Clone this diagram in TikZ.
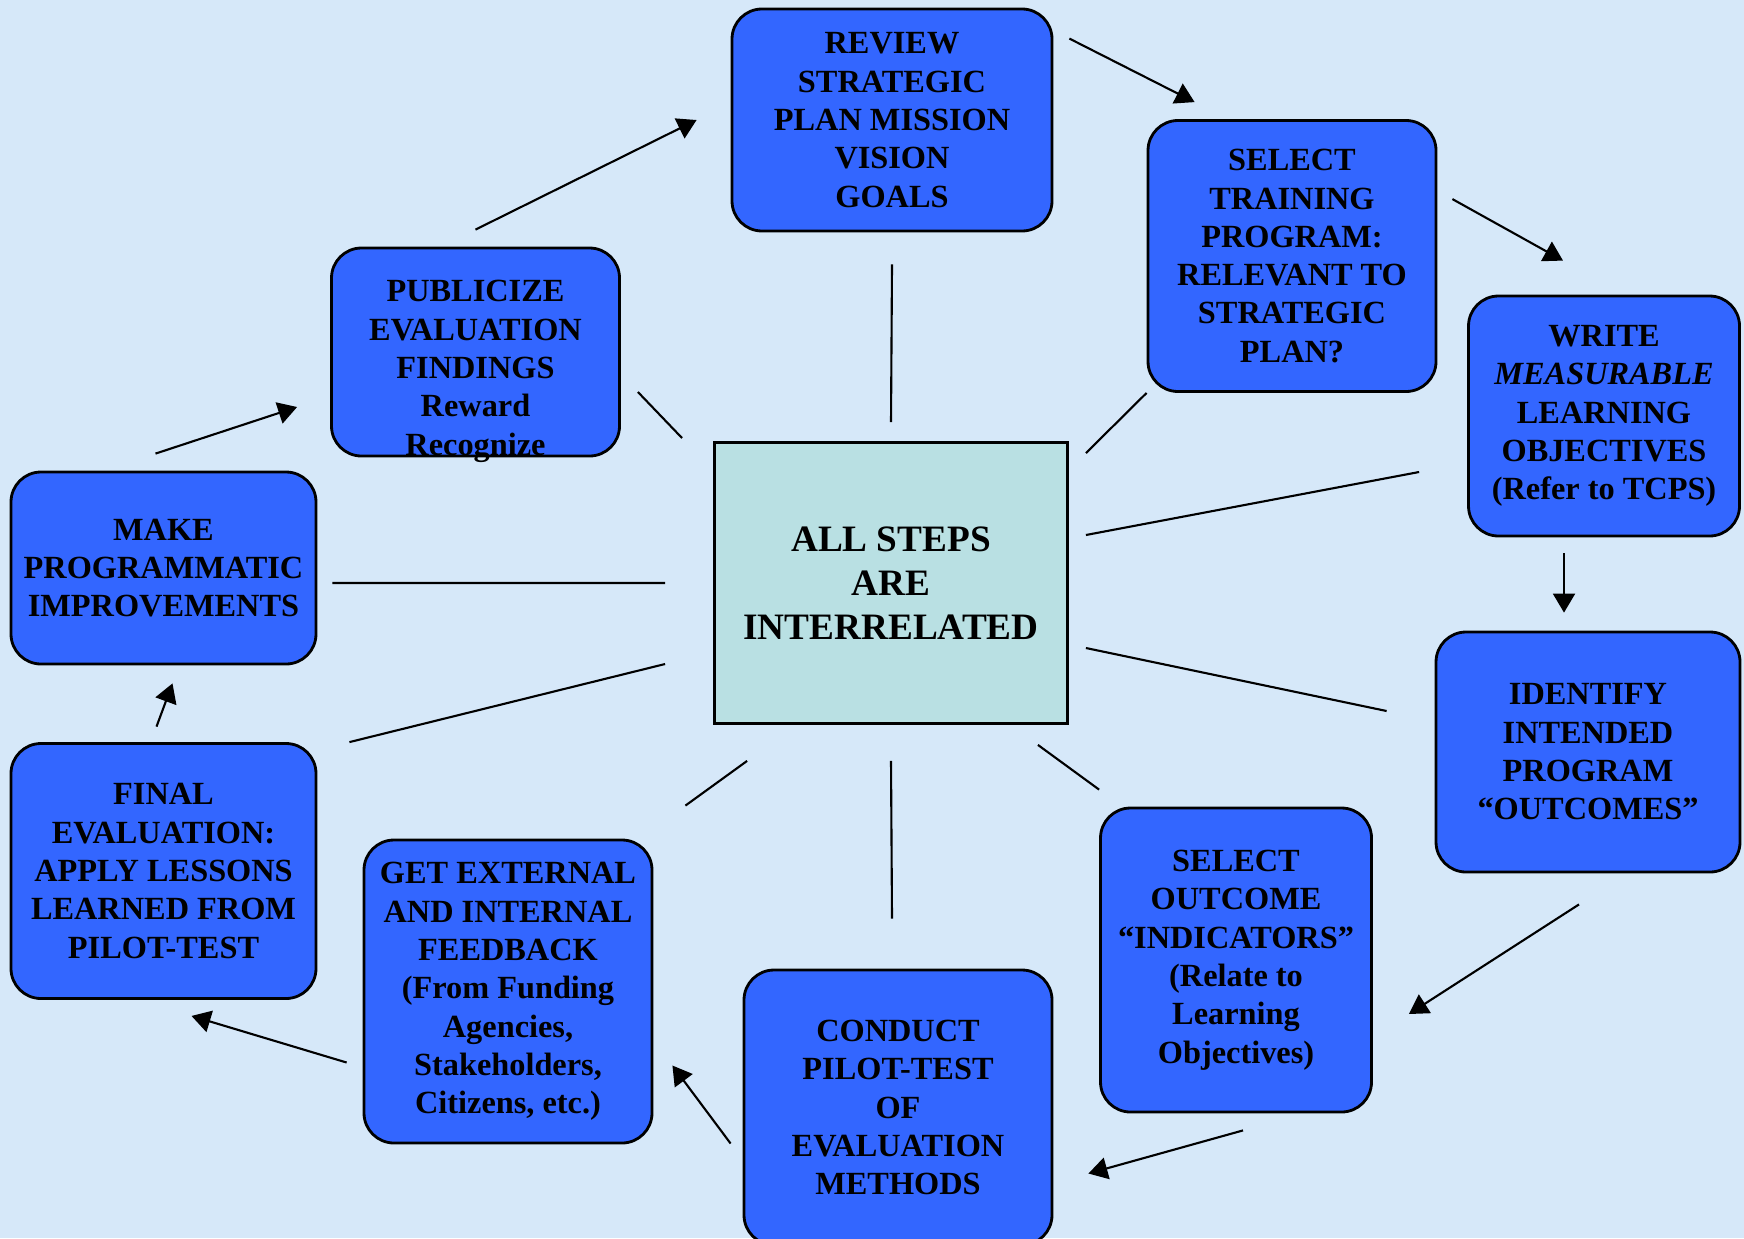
\documentclass[tikz,border=0pt]{standalone}
\usepackage{fontspec}
\setmainfont{Liberation Serif}
\usetikzlibrary{arrows.meta}
\definecolor{bgblue}{HTML}{D6E8F9}
\definecolor{boxblue}{HTML}{3366FF}
\definecolor{hubcyan}{HTML}{B9E0E3}
\tikzset{
	stepbox/.style={draw=black, line width=0.8pt, fill=boxblue, rounded corners=0.3cm, inner sep=0pt, align=center, font=\bfseries\fontsize{9.2}{10.9}\selectfont},
	hubbox/.style={draw=black, line width=0.8pt, fill=hubcyan, inner sep=0pt, align=center, font=\bfseries\fontsize{10.6}{12.5}\selectfont},
	link/.style={line width=0.6pt, -{Triangle[length=1.9mm,width=2.2mm]}},
	spoke/.style={line width=0.6pt}
}

\begin{document}
\begin{tikzpicture}
		%%%%% START %%%%%
		
		\useasboundingbox (0, 0) rectangle (17.44, -12.38);
		\clip (0, 0) rectangle (17.44, -12.38);
		\fill[bgblue] (0, 0) rectangle (17.44, -12.38);
		
		\node[stepbox, minimum width=3.20cm, minimum height=2.22cm] (review) at (8.92, -1.20) {REVIEW\\STRATEGIC\\PLAN MISSION\\VISION\\GOALS};
		\node[stepbox, minimum width=2.88cm, minimum height=2.71cm] (select) at (12.92, -2.56) {SELECT\\TRAINING\\PROGRAM:\\RELEVANT TO\\STRATEGIC\\PLAN?};
		\node[stepbox, minimum width=2.71cm, minimum height=2.40cm] (write) at (16.04, -4.16) {WRITE\\\textit{MEASURABLE}\\LEARNING\\OBJECTIVES\\(Refer to TCPS)};
		\node[stepbox, minimum width=3.04cm, minimum height=2.40cm] (identify) at (15.88, -7.52) {IDENTIFY\\INTENDED\\PROGRAM\\“OUTCOMES”};
		\node[stepbox, minimum width=2.71cm, minimum height=3.04cm] (indicators) at (12.36, -9.60) {SELECT\\OUTCOME\\“INDICATORS”\\(Relate to\\Learning\\Objectives)};
		\node[stepbox, minimum width=3.08cm, minimum height=2.75cm] (pilot) at (8.98, -11.075) {CONDUCT\\PILOT-TEST\\OF\\EVALUATION\\METHODS};
		\node[stepbox, minimum width=2.88cm, minimum height=3.03cm] (feedback) at (5.08, -9.915) {GET EXTERNAL\\AND INTERNAL\\FEEDBACK\\(From Funding\\Agencies,\\Stakeholders,\\Citizens, etc.)};
		\node[stepbox, minimum width=3.05cm, minimum height=2.55cm] (final) at (1.635, -8.71) {FINAL\\EVALUATION:\\APPLY LESSONS\\LEARNED FROM\\PILOT-TEST};
		\node[stepbox, minimum width=3.05cm, minimum height=1.92cm] (improve) at (1.635, -5.68) {MAKE\\PROGRAMMATIC\\IMPROVEMENTS};
		\node[stepbox, minimum width=2.88cm, minimum height=2.08cm, text height=2.06cm, text depth=0cm] (publicize) at (4.755, -3.52) {PUBLICIZE\\EVALUATION\\FINDINGS\\Reward\\Recognize};
		
		\node[hubbox, minimum width=3.53cm, minimum height=2.81cm] (hub) at (8.91, -5.83) {ALL STEPS\\ARE\\INTERRELATED};
		
		% the cycle
		\draw[link] ([yshift=0.17cm]publicize.north) -- ([xshift=-0.34cm]review.west);
		\draw[link] ([shift={(0.16,-0.31)}]review.north east) -- ([shift={(0.48,0.17)}]select.north west);
		\draw[link] ([shift={(0.15,-0.80)}]select.north east) -- ([shift={(-0.41,0.34)}]write.north);
		\draw[link] ([shift={(-0.40,-0.16)}]write.south) -- ([shift={(-0.24,0.18)}]identify.north);
		\draw[link] ([shift={(-0.09,-0.31)}]identify.south) -- ([shift={(0.36,-0.54)}]indicators.east);
		\draw[link] ([shift={(0.07,-0.17)}]indicators.south) -- ([shift={(0.35,-0.66)}]pilot.east);
		\draw[link] ([shift={(-0.12,-0.36)}]pilot.west) -- ([shift={(0.19,-0.74)}]feedback.east);
		\draw[link] ([shift={(-0.16,-0.71)}]feedback.west) -- ([shift={(0.28,-0.16)}]final.south);
		\draw[link] ([shift={(-0.07,0.155)}]final.north) -- ([shift={(0.09,-0.18)}]improve.south);
		\draw[link] ([shift={(-0.08,0.17)}]improve.north) -- ([shift={(-0.33,-0.55)}]publicize.west);
		
		% spokes to the hub
		\draw[spoke] ([yshift=-0.32cm]review.south) -- ([yshift=0.19cm]hub.north);
		\draw[spoke] ([shift={(0.17,-0.12)}]hub.north east) -- (select.south west);
		\draw[spoke] ([shift={(0.17,0.48)}]hub.east) -- ([shift={(-0.48,-0.56)}]write.west);
		\draw[spoke] ([shift={(0.17,-0.65)}]hub.east) -- ([shift={(-0.48,0.41)}]identify.west);
		\draw[spoke] ([shift={(-0.31,-0.20)}]hub.south east) -- ([yshift=0.17cm]indicators.north west);
		\draw[spoke] ([yshift=-0.36cm]hub.south) -- ([shift={(-0.06,0.50)}]pilot.north);
		\draw[spoke] ([shift={(0.34,-0.36)}]hub.south west) -- ([shift={(0.32,0.33)}]feedback.north east);
		\draw[spoke] ([shift={(-0.48,-0.81)}]hub.west) -- ([xshift=0.32cm]final.north east);
		\draw[spoke] ([xshift=-0.48cm]hub.west) -- ([shift={(0.15,-0.15)}]improve.east);
		\draw[spoke] ([shift={(-0.31,0.03)}]hub.north west) -- ([shift={(0.17,-0.40)}]publicize.east);
		
		%%%%% END %%%%%
\end{tikzpicture}
\end{document}
